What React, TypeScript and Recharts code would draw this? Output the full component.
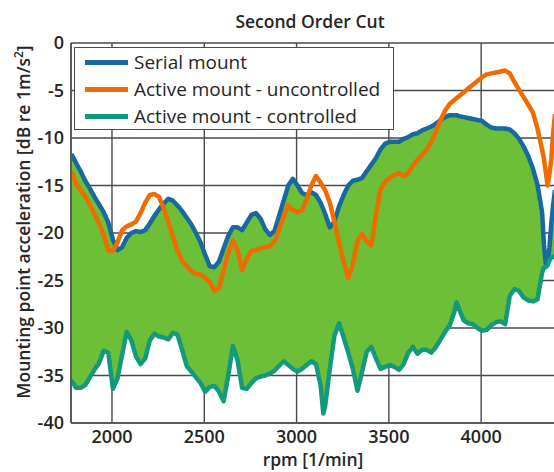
import React from 'react';
import { ComposedChart, Area, Line, XAxis, YAxis, CartesianGrid, Label } from 'recharts';

const RPM = [
  1780, 1805, 1830, 1855, 1880, 1905, 1930, 1955, 1980, 2005,
  2030, 2055, 2080, 2105, 2130, 2155, 2180, 2205, 2230, 2255,
  2280, 2305, 2330, 2355, 2380, 2405, 2430, 2455, 2480, 2505,
  2530, 2555, 2580, 2605, 2630, 2655, 2680, 2705, 2730, 2755,
  2780, 2805, 2830, 2855, 2880, 2905, 2930, 2955, 2980, 3005,
  3030, 3055, 3080, 3105, 3130, 3145, 3155, 3180, 3205, 3230,
  3255, 3280, 3305, 3330, 3355, 3380, 3405, 3430, 3455, 3480,
  3505, 3530, 3555, 3580, 3605, 3630, 3655, 3680, 3705, 3730,
  3755, 3780, 3805, 3830, 3855, 3867, 3880, 3905, 3930, 3955,
  3980, 4005, 4030, 4055, 4080, 4105, 4130, 4155, 4180, 4205,
  4230, 4255, 4280, 4305, 4330, 4340, 4350, 4360, 4370, 4380,
  4390, 4400,
];

// Serial mount (blue)
const SERIAL = [
  -11.7, -12.6, -13.5, -14.5, -15.3, -16.2, -17.0, -17.8, -18.9, -20.7,
  -21.8, -21.5, -20.5, -20.0, -19.8, -19.9, -19.7, -19.0, -18.2, -17.5,
  -16.9, -16.4, -16.6, -17.1, -17.7, -18.4, -19.1, -20.0, -21.0, -22.3,
  -23.5, -23.6, -23.0, -21.6, -20.3, -19.4, -19.4, -19.7, -18.9, -18.1,
  -17.9, -18.5, -19.6, -20.2, -19.8, -18.2, -16.6, -15.0, -14.3, -15.0,
  -15.8, -16.0, -15.7, -16.0, -16.8, -17.5, -18.0, -19.4, -18.8, -17.2,
  -16.0, -15.0, -14.5, -14.4, -14.2, -13.5, -12.8, -12.1, -11.2, -10.6,
  -10.4, -10.4, -10.4, -10.1, -9.9, -9.6, -9.5, -9.2, -9.0, -8.8,
  -8.5, -8.1, -7.8, -7.6, -7.6, -7.6, -7.7, -7.8, -7.9, -8.0,
  -8.1, -8.2, -8.6, -8.9, -9.0, -9.0, -9.0, -9.1, -9.5, -10.1,
  -10.9, -11.9, -13.2, -14.9, -17.8, -21.2, -23.2, -23.3, -21.5, -19.0,
  -17.0, -15.5,
];

// Active mount - uncontrolled (orange)
const UNCONTROLLED = [
  -13.5, -14.8, -15.5, -16.1, -17.0, -18.0, -19.0, -20.2, -21.8, -21.9,
  -21.0, -19.7, -19.3, -19.1, -18.8, -17.9, -16.8, -16.0, -15.9, -16.2,
  -17.4, -18.8, -20.4, -21.9, -22.9, -23.5, -24.0, -24.3, -24.4, -24.7,
  -25.2, -26.1, -25.8, -23.9, -22.1, -20.8, -21.8, -23.9, -22.7, -21.9,
  -21.8, -21.6, -21.5, -21.4, -20.9, -19.6, -18.3, -17.1, -17.6, -17.8,
  -17.6, -16.4, -15.0, -14.0, -14.7, -15.2, -15.5, -16.8, -18.8, -21.0,
  -23.0, -24.7, -23.3, -20.8, -20.1, -20.9, -21.3, -18.1, -15.4, -14.6,
  -14.2, -13.9, -13.7, -14.0, -13.7, -12.9, -12.3, -11.8, -11.2, -10.4,
  -9.3, -8.1, -7.1, -6.4, -6.0, -5.8, -5.6, -5.2, -4.8, -4.4,
  -4.0, -3.6, -3.3, -3.2, -3.1, -3.0, -2.9, -3.2, -4.1, -4.9,
  -5.7, -6.5, -7.3, -9.0, -11.2, -12.2, -13.6, -15.0, -13.8, -12.2,
  -9.5, -7.5,
];

// Active mount - controlled (teal)
const CONTROLLED = [
  -35.5, -36.3, -36.3, -36.0, -35.2, -34.4, -33.7, -32.4, -32.6, -36.4,
  -35.3, -32.8, -30.4, -31.3, -33.0, -33.8, -33.2, -31.3, -30.6, -30.9,
  -31.0, -31.2, -30.5, -30.7, -32.3, -34.0, -34.6, -35.2, -35.8, -36.7,
  -36.2, -36.1, -36.7, -37.7, -35.0, -31.9, -33.4, -36.3, -36.4, -35.8,
  -35.3, -35.1, -35.0, -34.8, -34.5, -34.0, -33.5, -33.9, -34.3, -34.6,
  -34.3, -33.9, -33.5, -33.8, -36.0, -39.0, -38.2, -34.3, -30.8, -29.5,
  -31.0, -32.6, -34.3, -36.6, -34.6, -32.5, -32.0, -33.2, -34.3, -34.1,
  -33.9, -34.1, -34.4, -33.8, -32.6, -32.0, -32.7, -32.3, -32.3, -32.6,
  -32.0, -31.2, -30.4, -29.7, -28.3, -27.3, -28.0, -29.2, -29.5, -29.6,
  -30.0, -30.3, -30.2, -29.7, -29.4, -29.3, -29.6, -26.6, -25.9, -26.1,
  -26.8, -27.1, -27.2, -27.0, -24.2, -23.6, -23.6, -23.4, -22.9, -22.6,
  -22.5, -22.5,
];

const X_TICKS = [2000, 2500, 3000, 3500, 4000];
const Y_TICKS = [-40, -35, -30, -25, -20, -15, -10, -5, 0];

const BLUE = '#17699e';
const ORANGE = '#f06c00';
const TEAL = '#139a7c';
const FILL = '#6cbf36';
const GRID = '#4a4a4a';
const TEXT = '#262626';
const FONT = '"Open Sans", "DejaVu Sans", sans-serif';

const LEGEND_ITEMS = [
  { name: 'Serial mount', color: BLUE },
  { name: 'Active mount - uncontrolled', color: ORANGE },
  { name: 'Active mount - controlled', color: TEAL },
];

const data = RPM.map((rpm, i) => ({
  rpm,
  serial: SERIAL[i],
  uncontrolled: UNCONTROLLED[i],
  controlled: CONTROLLED[i],
  band: [CONTROLLED[i], SERIAL[i]],
}));

function ChartLegend() {
  return (
    <div
      style={{
        position: 'absolute',
        left: 74,
        top: 47,
        width: 320,
        height: 83,
        boxSizing: 'border-box',
        border: `1.5px solid ${GRID}`,
        background: '#fff',
      }}
    >
      {LEGEND_ITEMS.map((item, i) => (
        <div
          key={item.name}
          style={{
            position: 'absolute',
            left: 0,
            top: 2 + i * 27,
            height: 24,
            display: 'flex',
            alignItems: 'center',
          }}
        >
          <span
            style={{
              display: 'inline-block',
              marginLeft: 10,
              width: 43,
              height: 5,
              background: item.color,
            }}
          />
          <span
            style={{
              marginLeft: 6,
              fontSize: 19,
              fontWeight: 500,
              color: TEXT,
              whiteSpace: 'nowrap',
              lineHeight: '24px',
            }}
          >
            {item.name}
          </span>
        </div>
      ))}
    </div>
  );
}

export default function App() {
  const tickStyle = { fontSize: 18, fontWeight: 600, fill: TEXT, fontFamily: FONT };
  return (
    <div
      style={{
        position: 'absolute',
        left: 0,
        top: 0,
        width: 554,
        height: 472,
        overflow: 'hidden',
        background: '#fff',
        fontFamily: FONT,
      }}
    >
      <div
        style={{
          position: 'absolute',
          left: 0,
          top: 10,
          width: 620,
          textAlign: 'center',
          fontSize: 17.5,
          fontWeight: 600,
          lineHeight: '22px',
          color: TEXT,
        }}
      >
        Second Order Cut
      </div>
      <ComposedChart
        width={560}
        height={472}
        data={data}
        margin={{ top: 43, right: 5, bottom: 0, left: 31 }}
      >
        <CartesianGrid stroke={GRID} strokeWidth={1.4} />
        <XAxis
          type="number"
          dataKey="rpm"
          domain={[1778, 4400]}
          ticks={X_TICKS}
          allowDataOverflow
          height={49}
          tickLine={false}
          tickSize={5}
          tickMargin={2}
          axisLine={{ stroke: '#5a5a5a', strokeWidth: 2 }}
          tick={tickStyle}
        >
          <Label
            content={() => (
              <text
                x={313}
                y={466}
                textAnchor="middle"
                fontSize={17.5}
                fontWeight={600}
                fill={TEXT}
                fontFamily={FONT}
              >
                rpm [1/min]
              </text>
            )}
          />
        </XAxis>
        <YAxis
          type="number"
          domain={[-40, 0]}
          ticks={Y_TICKS}
          allowDataOverflow
          width={40}
          tickLine={false}
          tickSize={5}
          tickMargin={2}
          axisLine={{ stroke: '#5a5a5a', strokeWidth: 2 }}
          tick={tickStyle}
        >
          <Label
            content={() => (
              <text
                x={30}
                y={222}
                transform="rotate(-90 30 222)"
                textAnchor="middle"
                fontSize={17.5}
                fontWeight={600}
                fill={TEXT}
                fontFamily={FONT}
              >
                Mounting point acceleration [dB re 1m/s
                <tspan dy={-7} fontSize={12}>2</tspan>
                <tspan dy={7}>]</tspan>
              </text>
            )}
          />
        </YAxis>
        <Area
          type="linear"
          dataKey="band"
          fill={FILL}
          fillOpacity={1}
          stroke="none"
          isAnimationActive={false}
          activeDot={false}
        />
        <Line
          type="linear"
          dataKey="serial"
          stroke={BLUE}
          strokeWidth={4.5}
          strokeLinejoin="round"
          dot={false}
          activeDot={false}
          isAnimationActive={false}
        />
        <Line
          type="linear"
          dataKey="controlled"
          stroke={TEAL}
          strokeWidth={4.5}
          strokeLinejoin="round"
          dot={false}
          activeDot={false}
          isAnimationActive={false}
        />
        <Line
          type="linear"
          dataKey="uncontrolled"
          stroke={ORANGE}
          strokeWidth={4.5}
          strokeLinejoin="round"
          dot={false}
          activeDot={false}
          isAnimationActive={false}
        />
      </ComposedChart>
      <ChartLegend />
    </div>
  );
}
